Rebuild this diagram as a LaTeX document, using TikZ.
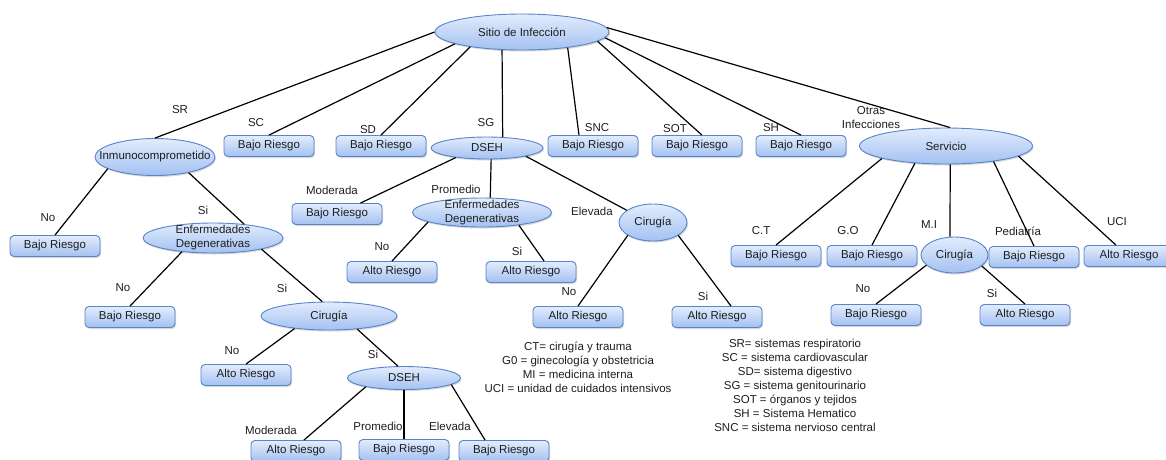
\documentclass[tikz,border=0pt]{standalone}
\usepackage{fontspec}
\setmainfont{Liberation Sans}
\usetikzlibrary{shapes.geometric, shadows}
\definecolor{nodetop}{RGB}{226, 236, 253}
\definecolor{nodebottom}{RGB}{163, 193, 241}
\definecolor{nodeborder}{RGB}{88, 132, 200}
\definecolor{textgray}{RGB}{30, 30, 30}

\tikzset{
    fondo/.style={top color=nodetop, bottom color=nodebottom, draw=nodeborder, line width=0.9pt,
                  drop shadow={shadow xshift=1pt, shadow yshift=-1.5pt, opacity=0.3}},
    riesgo/.style={fondo, rounded corners=4pt, minimum width=90pt, minimum height=21pt, inner sep=1pt},
    pregunta/.style={fondo, ellipse, inner sep=0pt, label={[align=center, inner sep=0pt]center:#1}},
    rama/.style={line width=1.2pt, black},
    etiqueta/.style={inner sep=1pt, align=center}
}

\begin{document}
\begin{tikzpicture}[x=1pt, y=-1pt, font=\fontsize{11.5}{14}\selectfont, text=textgray]
    \useasboundingbox (0,0) rectangle (1166,459);

    % raiz y primer nivel
    \node[pregunta={Sitio de Infección}, minimum width=174pt, minimum height=36pt] (sitio) at (522,32) {};
    \node[pregunta=Inmunocomprometido, minimum width=120pt, minimum height=37pt] (inmuno) at (155,157) {};
    \node[riesgo] (sc) at (269,146) {Bajo Riesgo};
    \node[riesgo] (sd) at (381,146) {Bajo Riesgo};
    \node[pregunta=DSEH, minimum width=112pt, minimum height=22pt] (dseh) at (487,148) {};
    \node[riesgo] (snc) at (593,146) {Bajo Riesgo};
    \node[riesgo] (sot) at (697,146) {Bajo Riesgo};
    \node[riesgo] (sh) at (801,146) {Bajo Riesgo};
    \node[pregunta=Servicio, minimum width=173pt, minimum height=36pt] (servicio) at (946,146) {};

    \node[etiqueta] (lSR) at (180,110) {SR};
    \node[etiqueta] (lSC) at (256,123) {SC};
    \node[etiqueta] (lSD) at (368,130) {SD};
    \node[etiqueta] (lSG) at (486,123) {SG};
    \node[etiqueta] (lSNC) at (597,128) {SNC};
    \node[etiqueta] (lSOT) at (675,129) {SOT};
    \node[etiqueta] (lSH) at (771,128) {SH};
    \node[etiqueta] (lOtras) at (871,118) {Otras\\Infecciones};

    \draw[rama] (sitio.180) -- (inmuno.north);
    \draw[rama] (sitio.190) -- (sc.north);
    \draw[rama] (sitio.196) -- (sd.north);
    \draw[rama] (sitio.222) -- (dseh.35);
    \draw[rama] (sitio.341) -- (snc.142);
    \draw[rama] (sitio.353) -- (sot.66);
    \draw[rama] (sitio.356) -- (sh.north);
    \draw[rama] (sitio.3) -- (servicio.77);

    % rama SR
    \node[riesgo] (inmNo) at (55,246) {Bajo Riesgo};
    \node[pregunta={Enfermedades\\Degenerativas}, minimum width=140pt, minimum height=30pt] (enfInm) at (213,238) {};
    \node[riesgo] (enfNo) at (130,317) {Bajo Riesgo};
    \node[pregunta=Cirugía, minimum width=136pt, minimum height=28pt] (cirInm) at (329,316) {};
    \node[riesgo] (cirNo) at (246,375) {Alto Riesgo};
    \node[pregunta=DSEH, minimum width=113pt, minimum height=23pt] (dsehInm) at (404,378) {};
    \node[riesgo] (dsehMod) at (296,451) {Alto Riesgo};
    \node[riesgo] (dsehProm) at (404,450) {Bajo Riesgo};
    \node[riesgo] (dsehElev) at (504,451) {Bajo Riesgo};

    \node[etiqueta] (lInmNo) at (48,218) {No};
    \node[etiqueta] (lInmSi) at (203,210) {Si};
    \node[etiqueta] (lEnfNo) at (123,288) {No};
    \node[etiqueta] (lEnfSi) at (282,288) {Si};
    \node[etiqueta] (lCirNo) at (232,351) {No};
    \node[etiqueta] (lCirSi) at (373,354) {Si};
    \node[etiqueta] (lMod) at (271,430) {Moderada};
    \node[etiqueta] (lProm) at (378,426) {Promedio};
    \node[etiqueta] (lElev) at (450,426) {Elevada};

    \draw[rama] (inmuno.194) -- (inmNo.north);
    \draw[rama] (inmuno.335) -- (enfInm.24);
    \draw[rama] (enfInm.204) -- (enfNo.north);
    \draw[rama] (enfInm.347) -- (cirInm.115);
    \draw[rama] (cirInm.200) -- (cirNo.north);
    \draw[rama] (cirInm.335) -- (dsehInm.117);
    \draw[rama] (dsehInm.193) -- (dsehMod.54);
    \draw[rama] (dsehInm.south) -- (dsehProm.north);
    \draw[rama] (dsehInm.352) -- (dsehElev.150);

    % rama SG
    \node[riesgo] (sgMod) at (337,214) {Bajo Riesgo};
    \node[pregunta={Enfermedades\\Degenerativas}, minimum width=139pt, minimum height=29pt] (enfSg) at (482,212.5) {};
    \node[pregunta=Cirugía, minimum width=68pt, minimum height=37pt] (cirSg) at (653,222.5) {};
    \node[riesgo] (enfSgNo) at (392,272) {Alto Riesgo};
    \node[riesgo] (enfSgSi) at (531,272) {Alto Riesgo};
    \node[riesgo] (cirSgNo) at (578,317) {Alto Riesgo};
    \node[riesgo] (cirSgSi) at (717,317) {Alto Riesgo};

    \node[etiqueta] (lSgMod) at (332,190) {Moderada};
    \node[etiqueta] (lSgProm) at (456,189) {Promedio};
    \node[etiqueta] (lSgElev) at (592,211) {Elevada};
    \node[etiqueta] (lEnfSgNo) at (382,247) {No};
    \node[etiqueta] (lEnfSgSi) at (517,251) {Si};
    \node[etiqueta] (lCirSgNo) at (569,292) {No};
    \node[etiqueta] (lCirSgSi) at (703,296) {Si};

    \draw[rama] (dseh.197) -- (sgMod.25);
    \draw[rama] (dseh.290) -- (enfSg.61);
    \draw[rama] (dseh.348) -- (cirSg.155);
    \draw[rama] (enfSg.190) -- (enfSgNo.north);
    \draw[rama] (enfSg.341) -- (enfSgSi.40);
    \draw[rama] (cirSg.207) -- (cirSgNo.north);
    \draw[rama] (cirSg.333) -- (cirSgSi.38);

    % rama Otras Infecciones
    \node[riesgo] (ct) at (776,256) {Bajo Riesgo};
    \node[riesgo] (go) at (872,256) {Bajo Riesgo};
    \node[pregunta=Cirugía, minimum width=67pt, minimum height=36pt] (cirMi) at (954.5,255) {};
    \node[riesgo] (ped) at (1034,257) {Bajo Riesgo};
    \node[riesgo] (uci) at (1129,256) {Alto Riesgo};
    \node[riesgo] (miNo) at (876,315) {Bajo Riesgo};
    \node[riesgo] (miSi) at (1025,315) {Alto Riesgo};

    \node[etiqueta] (lCT) at (761,231) {C.T};
    \node[etiqueta] (lGO) at (848,231) {G.O};
    \node[etiqueta] (lMI) at (929,225) {M.I};
    \node[etiqueta] (lPed) at (1018,231) {Pediatría};
    \node[etiqueta] (lUCI) at (1117,222) {UCI};
    \node[etiqueta] (lMiNo) at (863,289) {No};
    \node[etiqueta] (lMiSi) at (992,293) {Si};

    \draw[rama] (servicio.191) -- (ct.north);
    \draw[rama] (servicio.209) -- (go.north);
    \draw[rama] (servicio.283) -- (cirMi.104);
    \draw[rama] (servicio.342) -- (ped.north);
    \draw[rama] (servicio.352) -- (uci.140);
    \draw[rama] (cirMi.200) -- (miNo.north);
    \draw[rama] (cirMi.338) -- (miSi.north);

    % abreviaturas
    \node[etiqueta] (servicios) at (578,367) {CT= cirugía y trauma\\G0 = ginecología y obstetricia\\MI = medicina interna\\UCI = unidad de cuidados intensivos};
    \node[etiqueta] (sistemas) at (795,385) {SR= sistemas respiratorio\\SC = sistema cardiovascular\\SD= sistema digestivo\\SG = sistema genitourinario\\SOT = órganos y tejidos\\SH = Sistema Hematico\\SNC = sistema nervioso central};
\end{tikzpicture}
\end{document}
